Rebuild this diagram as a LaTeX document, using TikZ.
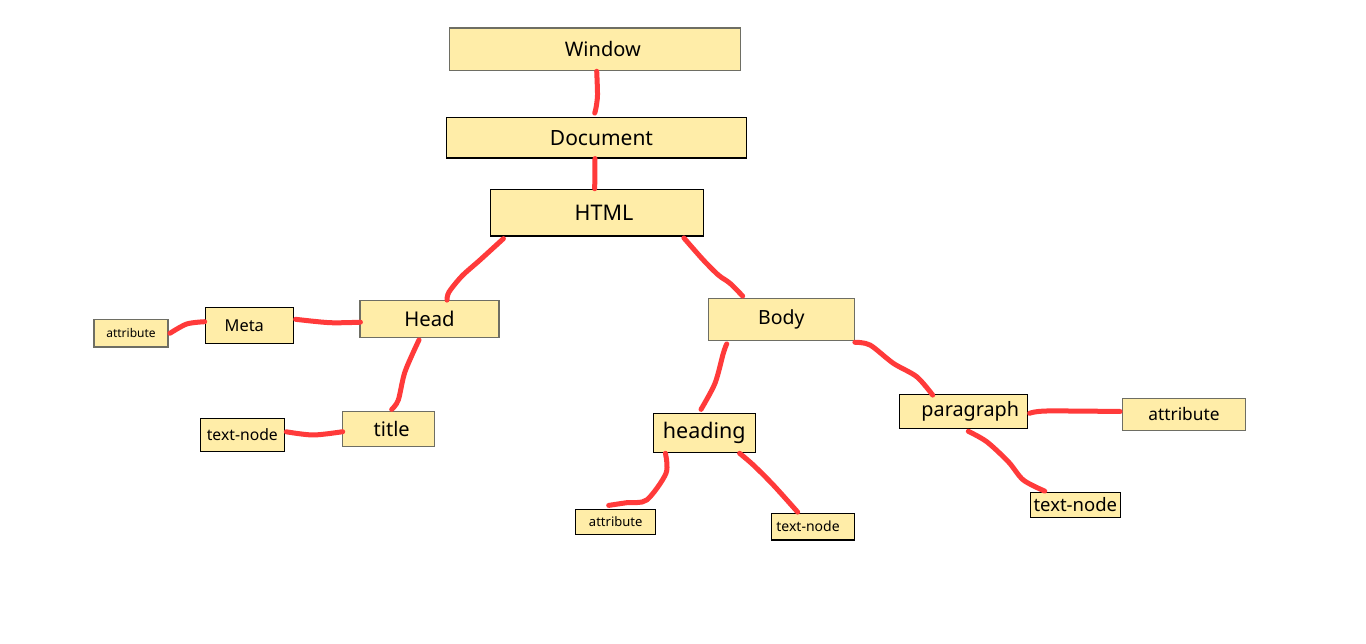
\documentclass[tikz,border=0pt]{standalone}
\usepackage{fontspec}
\setmainfont{Noto Sans}
\definecolor{boxfill}{RGB}{255,237,168}
\definecolor{graybd}{RGB}{110,110,100}
\definecolor{linkred}{RGB}{255,58,58}
\newcommand{\fs}[1]{\fontsize{#1}{#1}\selectfont}
\tikzset{
  box/.style={draw=black, fill=boxfill, line width=1.2pt, inner sep=0pt, anchor=center},
  gbox/.style={box, draw=graybd},
  link/.style={draw=linkred, line width=5pt, line cap=round, line join=round},
}
\begin{document}
\begin{tikzpicture}[x=1pt,y=-1pt]
\useasboundingbox[fill=white] (0,0) rectangle (1366,644);
% nodes
\node[gbox, minimum width=291pt, minimum height=42.7pt] (win) at (594.8,49.3) {\fs{20}\hspace*{16pt}Window};
\node[box, minimum width=299.6pt, minimum height=40.3pt] (doc) at (596.5,137.8) {\fs{21}\hspace*{10pt}Document};
\node[box, minimum width=212.6pt, minimum height=46.7pt] (html) at (597,212.7) {\fs{21.5}\hspace*{14pt}HTML};
\node[gbox, minimum width=139pt, minimum height=37pt] (head) at (429.5,319.2) {\fs{20.3}Head};
\node[box, minimum width=88pt, minimum height=36pt] (meta) at (249.3,325.7) {\fs{16.4}Meta\hspace*{10pt}};
\node[gbox, minimum width=74pt, minimum height=27.3pt] (attrL) at (131,333.3) {\fs{12}attribute};
\node[gbox, minimum width=92pt, minimum height=35pt] (title) at (388.7,429.2) {\fs{20}\hspace*{6pt}title};
\node[box, minimum width=84pt, minimum height=33pt] (tnL) at (242.3,434.8) {\fs{15.7}text-node};
\node[gbox, minimum width=146pt, minimum height=41.6pt] (body) at (781.3,319.5) {\fs{19.5}Body};
\node[box, minimum width=102pt, minimum height=39pt] (heading) at (704.3,432.8) {\fs{21.5}heading};
\node[box, minimum width=128pt, minimum height=34pt] (para) at (963.3,411.3) {\fs{19.8}\hspace*{14pt}paragraph};
\node[gbox, minimum width=123.4pt, minimum height=32.4pt] (attrR) at (1184,414.5) {\fs{17.3}attribute};
\node[box, minimum width=90pt, minimum height=24.6pt] (tnR) at (1075.3,505) {\fs{18.5}text-node};
\node[box, minimum width=80pt, minimum height=25pt] (attrB) at (615.7,521.8) {\fs{13}attribute};
\node[box, minimum width=83.4pt, minimum height=26.7pt] (tnB) at (813,526.7) {\fs{14}text-node\hspace*{10pt}};
% connectors
\draw[link] plot[smooth] coordinates {([xshift=1.9pt]win.south) (597.5,95) (596,108) ([xshift=-1.8pt,yshift=4pt]doc.north)};
\draw[link] ([xshift=-1.5pt]doc.south) -- ([xshift=-2.3pt]html.north);
\draw[link] plot[smooth] coordinates {([xshift=13.3pt,yshift=-2pt]html.south west) (480,260) (462,276) (449,292) ([xshift=17.5pt]head.north)};
\draw[link] plot[smooth] coordinates {([xshift=-20pt,yshift=-1.3pt]html.south east) (703.3,260) (718.3,275) (730,283.3) ([xshift=35pt,yshift=2pt]body.north west)};
\draw[link] plot[smooth] coordinates {([xshift=1pt,yshift=-3pt]head.west) (330,322.7) ([xshift=1.7pt,yshift=6.4pt]meta.east)};
\draw[link] plot[smooth] coordinates {([yshift=4pt]meta.west) (186.7,324) ([xshift=1.3pt]attrL.east)};
\draw[link] plot[smooth] coordinates {([xshift=-10.5pt,yshift=-1.6pt]head.south) (405,371.7) (398.3,400) ([xshift=3pt,yshift=1.7pt]title.north)};
\draw[link] plot[smooth] coordinates {([xshift=0.6pt,yshift=-2.5pt]title.west) (313.3,435) ([xshift=1.4pt,yshift=3pt]tnL.east)};
\draw[link] plot[smooth] coordinates {([xshift=19pt,yshift=-3pt]body.south west) (723.3,353.3) (715,383.3) ([xshift=-3.3pt,yshift=3.3pt]heading.north)};
\draw[link] plot[smooth] coordinates {([yshift=-1.4pt]body.south east) (870,345) (893.3,363.3) (916.7,376.7) ([xshift=34pt,yshift=-1.4pt]para.north west)};
\draw[link] plot[smooth] coordinates {([xshift=1.7pt,yshift=-2pt]para.east) (1046.7,411) ([xshift=-1.6pt,yshift=3pt]attrR.west)};
\draw[link] plot[smooth] coordinates {([xshift=5pt,yshift=-2.4pt]para.south) (986.7,441.7) (1008.3,461.7) (1023.3,480) ([xshift=15pt,yshift=1pt]tnR.north west)};
\draw[link] plot[smooth] coordinates {([xshift=12.7pt,yshift=-0.4pt]heading.south west) (666,473.3) (646.7,500) (626.7,502.7) ([xshift=33.6pt,yshift=3.3pt]attrB.north west)};
\draw[link] plot[smooth] coordinates {([xshift=-16.3pt,yshift=-0.4pt]heading.south east) (753.3,465) (773.3,485) ([xshift=27pt,yshift=0.6pt]tnB.north west)};
\end{tikzpicture}
\end{document}
